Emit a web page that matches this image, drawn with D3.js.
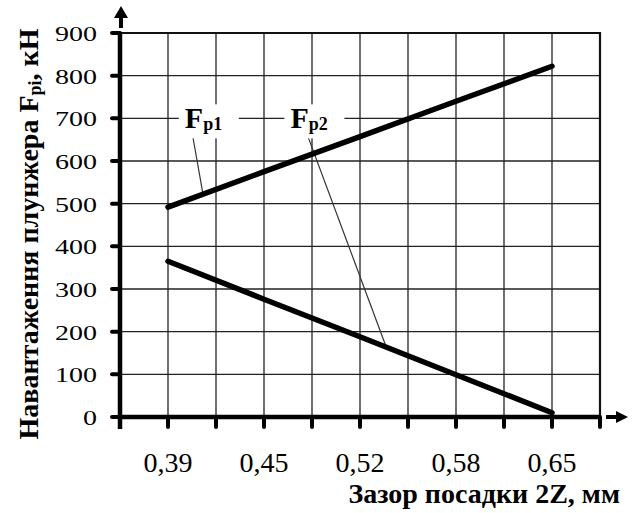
<!DOCTYPE html>
<html>
<head>
<meta charset="utf-8">
<script src="https://cdn.jsdelivr.net/npm/d3@7"></script>
<style>
  body { margin: 0; background: #fff; }
  svg text { font-family: "Liberation Serif", "Times New Roman", Times, "DejaVu Serif", serif; fill: #000; }
</style>
</head>
<body>
<div id="chart"></div>
<script>
// ------- Data -------
const categories = ["0,39", "0,45", "0,52", "0,58", "0,65"];
const fp1 = [492, 575, 657, 740, 822];
const fp2 = [365, 276, 188, 99, 10];
const yTicks = [0, 100, 200, 300, 400, 500, 600, 700, 800, 900];
// leader lines: [slot, value] start (near label) -> end (on line)
const leaders = [
  { name: "p1", label: [1.35, 700], from: [1.5, 668], to: [1.73, 522] },
  { name: "p2", label: [3.55, 700], from: [3.85, 677], to: [5.55, 163] }
];

// ------- Chart Setup -------
const W = 637, H = 513;
const svg = d3.select("#chart").append("svg")
  .attr("width", W).attr("height", H)
  .attr("font-family", "Liberation Serif, Times New Roman, serif");

// 10 slots along x; categories sit on odd slots
const x = d3.scaleLinear().domain([0, 10]).range([120, 600]);
const y = d3.scaleLinear().domain([0, 900]).range([417, 33]);
const slot = i => 2 * i + 1;

// ------- Grid -------
const grid = svg.append("g").attr("stroke", "#222").attr("stroke-width", 1.3);
grid.selectAll(".h").data(yTicks.slice(1, -1)).enter().append("line")
  .attr("x1", x(0)).attr("x2", x(10))
  .attr("y1", d => y(d)).attr("y2", d => y(d));
grid.selectAll(".v").data(d3.range(1, 10)).enter().append("line")
  .attr("x1", d => x(d)).attr("x2", d => x(d))
  .attr("y1", y(0)).attr("y2", y(900));

// frame top + right
svg.append("path")
  .attr("d", `M${x(0)},${y(900)}H${x(10)}V${y(0)}`)
  .attr("fill", "none").attr("stroke", "#111").attr("stroke-width", 2.2);

// ------- Leader lines -------
svg.append("g").selectAll("line").data(leaders).enter().append("line")
  .attr("x1", d => x(d.from[0])).attr("y1", d => y(d.from[1]))
  .attr("x2", d => x(d.to[0])).attr("y2", d => y(d.to[1]))
  .attr("stroke", "#333").attr("stroke-width", 1.2);

// ------- Series lines -------
const line = d3.line().x((d, i) => x(slot(i))).y(d => y(d));
[fp1, fp2].forEach(s => {
  svg.append("path").datum(s)
    .attr("d", line)
    .attr("fill", "none").attr("stroke", "#000")
    .attr("stroke-width", 5.5).attr("stroke-linecap", "round");
});

// ------- Series labels -------
leaders.forEach(d => {
  const g = svg.append("g")
    .attr("transform", `translate(${x(d.label[0])},${y(d.label[1]) + 10})`);
  g.append("rect").attr("x", -6).attr("y", -24).attr("width", 60).attr("height", 34)
    .attr("fill", "#fff");
  const t = g.append("text").attr("font-weight", "bold");
  t.append("tspan").attr("font-size", 30).text("F");
  t.append("tspan").attr("font-size", 18).attr("dy", 2).text(d.name);
});

// ------- Axes -------
const axis = svg.append("g").attr("stroke", "#000");
axis.append("line")
  .attr("x1", x(0)).attr("x2", x(0)).attr("y1", y(900)).attr("y2", y(0) + 12)
  .attr("stroke-width", 4.5);
axis.append("line")
  .attr("x1", x(0)).attr("x2", x(10)).attr("y1", y(0)).attr("y2", y(0))
  .attr("stroke-width", 4.5);
axis.selectAll(".yt").data(yTicks).enter().append("line")
  .attr("x1", x(0) - 8).attr("x2", x(0))
  .attr("y1", d => y(d)).attr("y2", d => y(d))
  .attr("stroke-width", 4).attr("stroke-linecap", "round");
axis.selectAll(".xt").data(d3.range(0, 11)).enter().append("line")
  .attr("x1", d => x(d)).attr("x2", d => x(d))
  .attr("y1", y(0)).attr("y2", y(0) + 10)
  .attr("stroke-width", 4).attr("stroke-linecap", "round");

// arrows
axis.append("line").attr("x1", x(0) + 1).attr("x2", x(0) + 1)
  .attr("y1", 28).attr("y2", 17).attr("stroke-width", 4);
svg.append("path").attr("d", `M${x(0) - 6},18L${x(0) + 1},6L${x(0) + 8},18Z`);
axis.append("line").attr("x1", x(10) + 6).attr("x2", x(10) + 18)
  .attr("y1", y(0)).attr("y2", y(0)).attr("stroke-width", 4);
svg.append("path").attr("d", `M${x(10) + 16},${y(0) - 6}L${x(10) + 28},${y(0)}L${x(10) + 16},${y(0) + 6}Z`);

// tick labels
svg.append("g").selectAll("text").data(yTicks).enter().append("text")
  .attr("x", 97).attr("y", d => y(d) + 8)
  .attr("text-anchor", "end").attr("font-size", 22)
  .attr("textLength", d => String(d).length * 14).attr("lengthAdjust", "spacingAndGlyphs")
  .text(d => d);
svg.append("g").selectAll("text").data(categories).enter().append("text")
  .attr("x", (d, i) => x(slot(i))).attr("y", 472)
  .attr("text-anchor", "middle").attr("font-size", 28)
  .text(d => d);

// axis titles
svg.append("text")
  .attr("x", 620).attr("y", 503).attr("text-anchor", "end")
  .attr("font-size", 28).attr("font-weight", "bold")
  .text("Зазор посадки 2Z, мм");

const yt = svg.append("text")
  .attr("transform", "translate(38,234) rotate(-90)")
  .attr("text-anchor", "middle")
  .attr("font-size", 28).attr("font-weight", "bold");
yt.append("tspan").text("Навантаження плунжера F");
yt.append("tspan").attr("font-size", 18).attr("dy", 3).text("pi");
yt.append("tspan").attr("dy", -3).text(", кН");
</script>
</body>
</html>
